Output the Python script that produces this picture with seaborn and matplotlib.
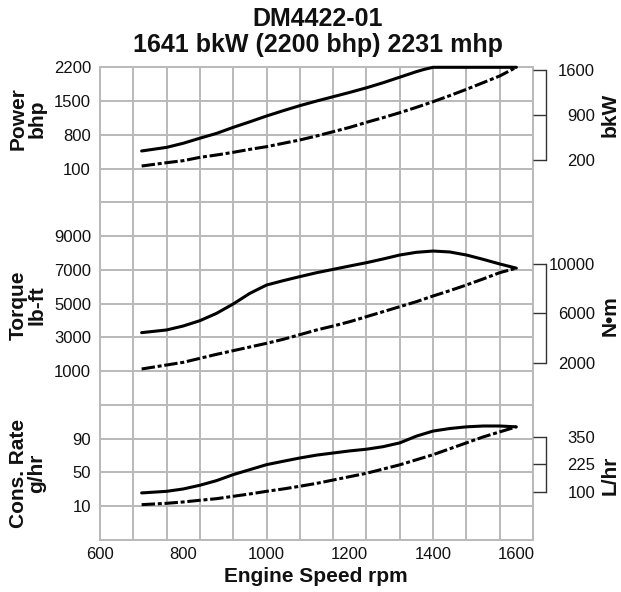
import numpy as np
import pandas as pd
import matplotlib
matplotlib.use("Agg")
import matplotlib.pyplot as plt
import seaborn as sns

# ---------------- data ----------------
rpm_power_max = [700, 760, 800, 840, 880, 920, 960, 1000, 1040, 1080, 1120, 1160,
                 1200, 1240, 1280, 1320, 1360, 1380, 1400, 1600]
power_max_bhp = [465, 540, 625, 730, 830, 955, 1070, 1190, 1300, 1405, 1500, 1590,
                 1680, 1775, 1880, 1995, 2110, 2160, 2200, 2200]

rpm_grid = [700, 760, 800, 840, 880, 920, 960, 1000, 1040, 1080, 1120, 1160,
            1200, 1240, 1280, 1320, 1360, 1400, 1440, 1480, 1520, 1560, 1600]
power_prop_bhp = [153, 222, 264, 333, 382, 437, 499, 554, 624, 693, 776, 865,
                  955, 1059, 1156, 1259, 1370, 1487, 1612, 1743, 1881, 2020, 2200]

torque_max_lbft = [3280, 3440, 3675, 3990, 4425, 4980, 5610, 6100, 6360, 6600, 6830, 7030,
                   7230, 7425, 7645, 7880, 8040, 8115, 8060, 7880, 7625, 7350, 7100]
torque_prop_lbft = [1127, 1364, 1522, 1759, 1996, 2213, 2430, 2648, 2885, 3160, 3437, 3674,
                    3931, 4227, 4523, 4819, 5116, 5452, 5767, 6103, 6459, 6834, 7100]

cons_max = [25.7, 27.6, 30.4, 34.8, 40.3, 47.4, 53.3, 59.2, 63.2, 67.1, 70.5, 73.0,
            75.5, 77.5, 80.5, 85.0, 93.0, 99.0, 102.0, 104.0, 105.0, 105.0, 104.0]
cons_prop = [11.8, 13.4, 15.0, 17.0, 18.9, 21.7, 24.5, 27.6, 30.4, 33.6, 37.0, 41.0,
             45.0, 49.0, 54.0, 59.0, 65.0, 71.0, 78.0, 85.0, 92.0, 98.0, 104.0]

power_ticks = [100, 800, 1500, 2200]
torque_ticks = [1000, 3000, 5000, 7000, 9000]
cons_ticks = [10, 50, 90]
kw_ticks = [200, 900, 1600]
nm_ticks = [2000, 6000, 10000]
lhr_ticks = [100, 225, 350]
x_ticks = [600, 800, 1000, 1200, 1400, 1600]

# ---------------- style ----------------
sns.set_theme(style="white")
plt.rcParams["font.family"] = ["Liberation Sans", "DejaVu Sans"]

W, H = 621, 592
fig = plt.figure(figsize=(W / 100, H / 100), dpi=100)


def rect(x0, y0, x1, y1):
    return [x0 / W, 1 - y1 / H, (x1 - x0) / W, (y1 - y0) / H]


L, R = 100, 533
top, cell = 67.3, 33.76
ax_p = fig.add_axes(rect(L, top, R, top + 4 * cell))
ax_t = fig.add_axes(rect(L, top + 4 * cell, R, top + 10 * cell))
ax_c = fig.add_axes(rect(L, top + 10 * cell, R, top + 14 * cell))

GRID = "#b9b9b9"
BR = "#333333"
solid_kw = dict(color="black", lw=2.2)
dash_kw = dict(color="black", lw=2.2, linestyle=(0, (4.4, 0.9, 1.3, 0.9)))

panels = [
    (ax_p, rpm_power_max, power_max_bhp, rpm_grid, power_prop_bhp, (-600, 2200), power_ticks,
     0.7457, kw_ticks),
    (ax_t, rpm_grid, torque_max_lbft, rpm_grid, torque_prop_lbft, (-1000, 11000), torque_ticks,
     1.35582, nm_ticks),
    (ax_c, rpm_grid, cons_max, rpm_grid, cons_prop, (-30, 130), cons_ticks,
     3.7854, lhr_ticks),
]

for ax, xs, ys, xd, yd, ylim, yt, fac, rt in panels:
    sns.lineplot(x=xs, y=ys, ax=ax, sort=False, **solid_kw)
    sns.lineplot(x=xd, y=yd, ax=ax, sort=False, **dash_kw)
    for ln in ax.lines:
        ln.set_clip_on(False)
        ln.set_zorder(5)
    ax.set_xlim(600, 1640)
    ax.set_ylim(*ylim)
    ax.set_xticks(x_ticks)
    ax.set_xticks(np.arange(600, 1641, 80), minor=True)
    ax.xaxis.remove_overlapping_locs = False
    ax.set_yticks(yt)
    ax.set_yticklabels([str(v) for v in yt])
    ax.grid(False)
    ax.grid(which="minor", axis="x", color=GRID, lw=1.4)
    ax.grid(which="major", axis="y", color=GRID, lw=1.4)
    ax.set_axisbelow(True)
    for s in ax.spines.values():
        s.set_color(GRID)
        s.set_linewidth(1.4)
    ax.tick_params(axis="y", length=0, pad=6.5, labelsize=12, labelcolor="#111111")
    ax.tick_params(axis="x", which="both", length=0, pad=5, labelsize=12, labelcolor="#111111")
    ax.set_xlabel("")
    ax.set_ylabel("")
    if ax is not ax_c:
        ax.tick_params(axis="x", labelbottom=False)

    ax2 = ax.twinx()
    ax2.set_ylim(ylim[0] * fac, ylim[1] * fac)
    ax2.grid(False)
    for name, s in ax2.spines.items():
        s.set_visible(name == "right")
    ax2.spines["right"].set_position(("outward", 9.4))
    ax2.spines["right"].set_bounds(rt[0], rt[-1])
    ax2.spines["right"].set_color(BR)
    ax2.spines["right"].set_linewidth(1.0)
    ax2.tick_params(axis="y", direction="in", length=9.4, width=1.0, color=BR,
                    pad=35.3, labelsize=12, labelcolor="#111111")
    ax2.set_yticks(rt, labels=[str(v) for v in rt])
    for tk in ax2.yaxis.get_major_ticks():
        tk.label2.set_horizontalalignment("right")

# ---------------- texts ----------------
lab = dict(rotation=90, ha="center", va="center", fontsize=15, fontweight="bold",
           color="#111111", linespacing=0.95, multialignment="center")
fig.text(27.5 / W, 1 - 119 / H, "Power\nbhp", **lab)
fig.text(27.5 / W, 1 - 305 / H, "Torque\nlb-ft", **lab)
fig.text(27.5 / W, 1 - 473 / H, "Cons. Rate\ng/hr", **lab)
fig.text(610 / W, 1 - 115 / H, "bkW", **lab)
fig.text(610 / W, 1 - 316 / H, "N•m", **lab)
fig.text(610 / W, 1 - 475 / H, "L/hr", **lab)

fig.text(318 / W, 1 - 32 / H, "DM4422-01\n1641 bkW (2200 bhp) 2231 mhp", ha="center",
         va="center", fontsize=18, fontweight="bold", color="#111111", linespacing=1.15)
fig.text(316 / W, 1 - 576 / H, "Engine Speed rpm", ha="center", va="center",
         fontsize=15, fontweight="bold", color="#111111")

fig.savefig("out.png", dpi=100)
